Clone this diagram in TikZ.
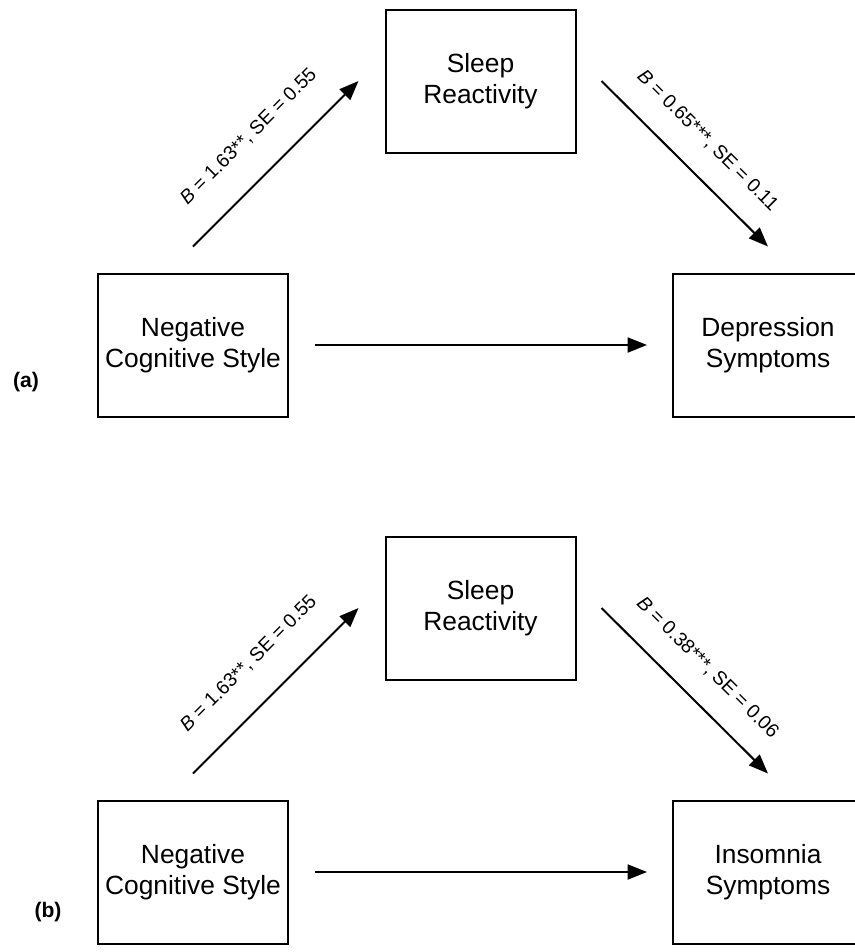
\documentclass[tikz,border=0pt]{standalone}
\usepackage{fontspec}
\setmainfont{Liberation Sans}
\usepackage{xcolor}
\usepackage{tikz}
\usetikzlibrary{positioning}
\usetikzlibrary{arrows.meta}
\usetikzlibrary{calc}

\begin{document}
\begin{tikzpicture}[
    box/.style={rectangle, draw, line width=0.04cm, minimum width=3.8cm, minimum height=2.86cm, align=center, font=\fontsize{15}{18}\selectfont},
    arrow/.style={-{Triangle[length=11pt, width=8.5pt]}, line width=0.04cm},
    note/.style={font=\fontsize{11}{13}\selectfont, sloped, midway},
    panel/.style={font=\fontsize{12}{14}\selectfont\bfseries}
]
\useasboundingbox (0,0) rectangle (17.1,-19.04);

% Panel (a)
\node[box] (negA) at (3.86,-6.9) {Negative\\Cognitive Style};
\node[box, right=7.66cm of negA] (deprA) {Depression\\Symptoms};
\coordinate (midA) at ($(negA.north)!0.5!(deprA.north)$);
\node[box, above=2.38cm of midA] (sleepA) {Sleep\\Reactivity};
\node[panel] (labA) at (0.52,-7.64) {(a)};

\draw[arrow] ([yshift=0.52cm]negA.north) -- ([xshift=-0.52cm]sleepA.west)
    node[note, above=0.47cm] {\textit{B} = 1.63**, SE = 0.55};
\draw[arrow] ([xshift=0.5cm]sleepA.east) -- ([yshift=0.52cm]deprA.north)
    node[note, above=0.35cm] {\textit{B} = 0.65***, SE = 0.11};
\draw[arrow, shorten <=0.52cm, shorten >=0.5cm] (negA) -- (deprA);

% Panel (b)
\node[box, below=7.64cm of negA] (negB) {Negative\\Cognitive Style};
\node[box, right=7.66cm of negB] (insB) {Insomnia\\Symptoms};
\coordinate (midB) at ($(negB.north)!0.5!(insB.north)$);
\node[box, above=2.38cm of midB] (sleepB) {Sleep\\Reactivity};
\node[panel] (labB) at (0.96,-18.24) {(b)};

\draw[arrow] ([yshift=0.52cm]negB.north) -- ([xshift=-0.52cm]sleepB.west)
    node[note, above=0.47cm] {\textit{B} = 1.63**, SE = 0.55};
\draw[arrow] ([xshift=0.5cm]sleepB.east) -- ([yshift=0.52cm]insB.north)
    node[note, above=0.35cm] {\textit{B} = 0.38***, SE = 0.06};
\draw[arrow, shorten <=0.52cm, shorten >=0.5cm] (negB) -- (insB);

\end{tikzpicture}
\end{document}
